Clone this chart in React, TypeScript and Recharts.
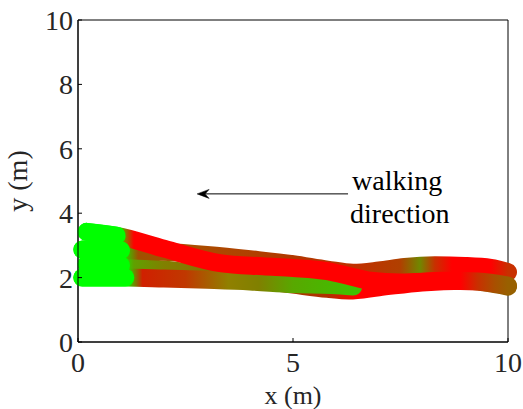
import React from 'react';
import {
  LineChart,
  Line,
  XAxis,
  YAxis,
  ReferenceArea,
  ReferenceLine,
  ReferenceDot,
  Label,
} from 'recharts';

// ---------- data ----------
const xTicks = [0, 5, 10];
const yTicks = [0, 2, 4, 6, 8, 10];

// track A: starts at top (y≈3.4), red, ends in the lower right band
const trackAX = [0.2, 0.9, 2.0, 3.3, 4.3, 5.0, 5.8, 6.3, 6.8, 7.5, 8.5, 9.3, 10.0];
const trackAY = [3.42, 3.3, 2.9, 2.45, 2.35, 2.3, 2.2, 2.05, 1.9, 1.85, 1.9, 1.88, 1.75];
const trackAStopX = [0.9, 1.3, 8.9, 9.3, 9.7, 10.0];
const trackAStopColor = ['#00ff00', '#ff0000', '#ff0000', '#c83000', '#a85000', '#986000'];

// track B: starts at y≈2.9, ends in the upper right band (bump)
const trackBX = [0.1, 1.0, 2.0, 3.0, 4.0, 5.0, 5.8, 6.4, 7.0, 7.6, 8.3, 9.0, 9.6, 10.0];
const trackBY = [2.87, 2.85, 2.8, 2.7, 2.57, 2.42, 2.25, 2.15, 2.22, 2.33, 2.38, 2.36, 2.3, 2.17];
const trackBStopX = [1.0, 1.4, 2.5, 4.0, 5.0, 6.5, 7.5, 7.95, 8.3, 8.7, 9.6, 10.0];
const trackBStopColor = ['#00ff00', '#a05000', '#a85000', '#b04000', '#b03800', '#c03000', '#b04000', '#708800', '#c83000', '#ff0000', '#ff0000', '#c83000'];

// track C: starts at y≈2.4, olive, mostly hidden, ends in the lower right band
const trackCX = [0.2, 1.0, 2.0, 3.0, 4.0, 5.0, 5.8, 6.3, 7.0, 8.0, 9.0, 10.0];
const trackCY = [2.42, 2.38, 2.25, 2.1, 1.95, 1.78, 1.65, 1.6, 1.7, 1.85, 1.9, 1.72];
const trackCStopX = [1.0, 1.3, 2.0, 3.0, 4.0, 5.8, 6.5, 8.8, 9.3, 10.0];
const trackCStopColor = ['#00ff00', '#60a000', '#808000', '#8a7000', '#a04000', '#b03000', '#ff0000', '#ff0000', '#a05000', '#906000'];

// track D: starts at y≈2.0, olive then green, ends at x≈6.4
const trackDX = [0.1, 1.1, 2.0, 3.0, 4.0, 5.0, 5.9, 6.4];
const trackDY = [2.0, 2.0, 1.97, 1.93, 1.88, 1.8, 1.77, 1.72];
const trackDStopX = [1.1, 1.5, 2.5, 3.5, 4.2, 5.0, 5.9, 6.4];
const trackDStopColor = ['#00ff00', '#d02000', '#c03800', '#908000', '#808000', '#58a800', '#48b800', '#40c000'];

// annotation
const arrowFrom = { x: 6.28, y: 4.6 };
const arrowTo = { x: 2.77, y: 4.6 };
const annotationLines = ['walking', 'direction'];

// ---------- helpers ----------
const FONT = '"Liberation Serif", Tinos, "Times New Roman", "DejaVu Serif", serif';
const TEXT_COLOR = '#262626';

const toPoints = (xs: number[], ys: number[]) => xs.map((x, i) => ({ x, y: ys[i] }));

const tracks = [
  { id: 'C', data: toPoints(trackCX, trackCY), sx: trackCStopX, sc: trackCStopColor },
  { id: 'D', data: toPoints(trackDX, trackDY), sx: trackDStopX, sc: trackDStopColor },
  { id: 'B', data: toPoints(trackBX, trackBY), sx: trackBStopX, sc: trackBStopColor },
  { id: 'A', data: toPoints(trackAX, trackAY), sx: trackAStopX, sc: trackAStopColor },
];

const Gradient = ({ id, data, sx, sc }: any) => {
  const xmin = data[0].x;
  const xmax = data[data.length - 1].x;
  return (
    <linearGradient id={`grad${id}`} x1="0" y1="0" x2="1" y2="0">
      {sx.map((x: number, i: number) => (
        <stop
          key={i}
          offset={`${Math.max(0, Math.min(1, (x - xmin) / (xmax - xmin))) * 100}%`}
          stopColor={sc[i]}
        />
      ))}
    </linearGradient>
  );
};

const ArrowShape = (props: any) => {
  const { x1, y1, x2, y2 } = props;
  const ang = Math.atan2(y2 - y1, x2 - x1);
  const L = 12;
  const Wd = 4.5;
  const N = 8;
  const ux = Math.cos(ang);
  const uy = Math.sin(ang);
  const bx = x2 - ux * L;
  const by = y2 - uy * L;
  const nx = x2 - ux * N;
  const ny = y2 - uy * N;
  const p1 = `${bx - uy * Wd},${by + ux * Wd}`;
  const p2 = `${bx + uy * Wd},${by - ux * Wd}`;
  return (
    <g>
      <line x1={x1} y1={y1} x2={nx} y2={ny} stroke="#000" strokeWidth={1} />
      <polygon points={`${x2},${y2} ${p1} ${nx},${ny} ${p2}`} fill="#000" stroke="#000" strokeWidth={0.5} />
    </g>
  );
};

const textStyle = { fontFamily: FONT };

const AnnotationText = (props: any) => {
  const { cx, cy } = props;
  return (
    <g>
      <text x={cx + 4} y={cy - 4} style={textStyle} fontSize={28} fill="#000">
        {annotationLines[0]}
      </text>
      <text x={cx + 2} y={cy + 29} style={textStyle} fontSize={28} fill="#000">
        {annotationLines[1]}
      </text>
    </g>
  );
};

const YLabel = (props: any) => {
  const vb = props.viewBox;
  const x = vb.x + 27;
  const y = vb.y + vb.height / 2;
  return (
    <text
      x={x}
      y={y}
      transform={`rotate(-90, ${x}, ${y})`}
      textAnchor="middle"
      style={textStyle}
      fontSize={28}
      fill={TEXT_COLOR}
    >
      y (m)
    </text>
  );
};

const XLabel = (props: any) => {
  const vb = props.viewBox;
  return (
    <text
      x={vb.x + vb.width / 2}
      y={vb.y + 62}
      textAnchor="middle"
      style={textStyle}
      fontSize={26}
      fill={TEXT_COLOR}
    >
      x (m)
    </text>
  );
};

const tickStyle = { fontSize: 28, fill: TEXT_COLOR, style: { fontFamily: FONT } };

export default function App() {
  return (
    <div style={{ position: 'absolute', left: 0, top: 0, background: '#fff', fontFamily: FONT }}>
      <LineChart width={523} height={409} margin={{ top: 20, right: 15, bottom: 0, left: 0 }} style={{ fontFamily: FONT }}>
        <defs>
          {tracks.map((t) => (
            <Gradient key={t.id} {...t} />
          ))}
        </defs>
        <XAxis
          type="number"
          dataKey="x"
          domain={[0, 10]}
          ticks={xTicks}
          interval={0}
          height={67}
          tickSize={-4}
          tickMargin={14}
          tick={tickStyle}
          axisLine={{ stroke: '#000' }}
          tickLine={{ stroke: '#000' }}
        >
          <Label content={XLabel} />
        </XAxis>
        <YAxis
          type="number"
          dataKey="y"
          domain={[0, 10]}
          ticks={yTicks}
          interval={0}
          width={78}
          tickSize={-4}
          tickMargin={9}
          tick={tickStyle}
          axisLine={{ stroke: '#000' }}
          tickLine={{ stroke: '#000' }}
        >
          <Label content={YLabel} />
        </YAxis>
        <ReferenceArea x1={0} x2={10} y1={0} y2={10} fill="none" fillOpacity={0} stroke="#000" strokeWidth={1} />
        {tracks.map((t) => (
          <Line
            key={`line${t.id}`}
            data={t.data}
            dataKey="y"
            type="monotone"
            stroke={`url(#grad${t.id})`}
            strokeWidth={18}
            strokeLinecap="round"
            strokeLinejoin="round"
            dot={false}
            activeDot={false}
            isAnimationActive={false}
          />
        ))}
        {tracks.map((t) => (
          <Line
            key={`start${t.id}`}
            data={t.data.slice(0, 2)}
            dataKey="y"
            type="linear"
            stroke="#00ff00"
            strokeWidth={18}
            strokeLinecap="round"
            dot={false}
            activeDot={false}
            isAnimationActive={false}
          />
        ))}
        <ReferenceLine
          segment={[arrowFrom, arrowTo]}
          shape={ArrowShape}
          ifOverflow="visible"
        />
        <ReferenceDot x={arrowFrom.x} y={arrowFrom.y} shape={AnnotationText} ifOverflow="visible" />
      </LineChart>
    </div>
  );
}
